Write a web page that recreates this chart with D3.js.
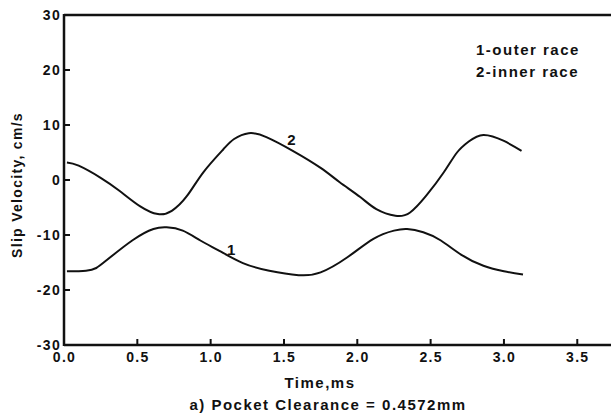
<!DOCTYPE html>
<html>
<head>
<meta charset="utf-8">
<script src="https://cdn.jsdelivr.net/npm/d3@7"></script>
<style>
  html, body { margin: 0; padding: 0; background: #fff; }
  text { font-family: "Liberation Sans", Arial, Helvetica, sans-serif; font-weight: bold; fill: #111; }
</style>
</head>
<body>
<svg id="chart" width="611" height="417"></svg>
<script>
// ---- data ----
const xTicks = [0.0, 0.5, 1.0, 1.5, 2.0, 2.5, 3.0, 3.5];
const xTickLabels = ["0.0", "0.5", "1.0", "1.5", "2.0", "2.5", "3.0", "3.5"];
const yTicks = [-30, -20, -10, 0, 10, 20, 30];
const yTickLabels = ["-30", "-20", "-10", "0", "10", "20", "30"];

// series 1: outer race
const outerTime = [0.02, 0.15, 0.22, 0.29, 0.47, 0.61, 0.70, 0.81, 0.93, 1.06, 1.22, 1.40, 1.60, 1.75, 1.93, 2.11, 2.25, 2.34, 2.45, 2.57, 2.71, 2.86, 3.00, 3.13];
const outerVel  = [-16.6, -16.5, -16.0, -14.6, -10.9, -8.9, -8.6, -9.2, -11.0, -12.9, -15.1, -16.5, -17.3, -16.8, -14.1, -10.7, -9.2, -8.9, -9.5, -11.0, -13.6, -15.6, -16.6, -17.2];
// series 2: inner race
const innerTime = [0.02, 0.10, 0.25, 0.38, 0.52, 0.64, 0.735, 0.84, 0.95, 1.087, 1.16, 1.26, 1.38, 1.56, 1.75, 1.88, 2.02, 2.13, 2.26, 2.36, 2.47, 2.59, 2.68, 2.76, 2.86, 3.00, 3.12];
const innerVel  = [3.2, 2.6, 0.4, -2.0, -4.8, -6.2, -5.6, -2.85, 1.4, 5.6, 7.45, 8.5, 7.8, 5.3, 2.2, -0.4, -3.1, -5.3, -6.5, -5.9, -2.85, 1.4, 5.0, 7.0, 8.2, 7.1, 5.3];

const legendLines = ["1-outer race", "2-inner race"];
const xTitle = "Time,ms";
const yTitle = "Slip Velocity, cm/s";
const caption = "a) Pocket Clearance = 0.4572mm";

// ---- layout ----
const svg = d3.select("#chart");
const pL = 64, pR = 611, pT = 15, pB = 345;
const x = d3.scaleLinear().domain([0, 3.73]).range([pL, pR]);
const y = d3.scaleLinear().domain([-30, 30]).range([pB, pT]);
const LS = "1.3px";

svg.append("line").attr("x1", pL).attr("x2", pR).attr("y1", pT).attr("y2", pT)
  .attr("stroke", "#111").attr("stroke-width", 2.5);

const xAxis = d3.axisBottom(x).tickValues(xTicks).tickSize(0).tickFormat((d, i) => xTickLabels[i]);
const gx = svg.append("g").attr("transform", `translate(0,${pB})`).call(xAxis);
gx.select(".domain").remove();
gx.selectAll("text").attr("dy", null).attr("y", 17).style("font-size", "14px").style("letter-spacing", LS).attr("fill", "#111");
xTicks.forEach(t => {
  if (t > 0) gx.append("line").attr("x1", x(t)).attr("x2", x(t)).attr("y1", 0).attr("y2", -6).attr("stroke", "#111").attr("stroke-width", 2);
});

const yAxis = d3.axisLeft(y).tickValues(yTicks).tickSize(0).tickFormat((d, i) => yTickLabels[i]);
const gy = svg.append("g").attr("transform", `translate(${pL},0)`).call(yAxis);
gy.select(".domain").remove();
gy.selectAll("text").attr("x", -3).style("font-size", "14px").style("letter-spacing", LS).attr("fill", "#111");
yTicks.forEach(t => {
  gy.append("line").attr("x1", 0).attr("x2", 6).attr("y1", y(t)).attr("y2", y(t)).attr("stroke", "#111").attr("stroke-width", 2);
});

svg.append("line").attr("x1", pL).attr("x2", pR).attr("y1", pB).attr("y2", pB)
  .attr("stroke", "#111").attr("stroke-width", 2.5);
svg.append("line").attr("x1", pL).attr("x2", pL).attr("y1", pT - 1).attr("y2", pB + 1)
  .attr("stroke", "#111").attr("stroke-width", 2.5);

// curves
const line = d3.line().x(d => x(d[0])).y(d => y(d[1])).curve(d3.curveNatural);
svg.append("path").datum(outerTime.map((t, i) => [t, outerVel[i]]))
  .attr("d", line).attr("fill", "none").attr("stroke", "#111").attr("stroke-width", 2);
svg.append("path").datum(innerTime.map((t, i) => [t, innerVel[i]]))
  .attr("d", line).attr("fill", "none").attr("stroke", "#111").attr("stroke-width", 2);

// curve labels
svg.append("text").attr("x", x(1.55)).attr("y", y(7.3)).attr("text-anchor", "middle").attr("dy", "0.35em")
  .style("font-size", "15px").text("2");
svg.append("text").attr("x", x(1.14)).attr("y", y(-12.6)).attr("text-anchor", "middle").attr("dy", "0.35em")
  .style("font-size", "15px").text("1");

// legend text
legendLines.forEach((s, i) => {
  svg.append("text").attr("x", 476).attr("y", 55 + i * 22).style("font-size", "15px").style("letter-spacing", "1.5px").text(s);
});

// titles
svg.append("text").attr("x", 320).attr("y", 388).attr("text-anchor", "middle")
  .style("font-size", "15px").style("letter-spacing", "1.5px").text(xTitle);
svg.append("text").attr("x", 328).attr("y", 410).attr("text-anchor", "middle")
  .style("font-size", "15px").style("letter-spacing", "1.5px").text(caption);
svg.append("text").attr("transform", "translate(22,185) rotate(-90)").attr("text-anchor", "middle")
  .style("font-size", "14px").style("letter-spacing", LS).text(yTitle);
</script>
</body>
</html>
